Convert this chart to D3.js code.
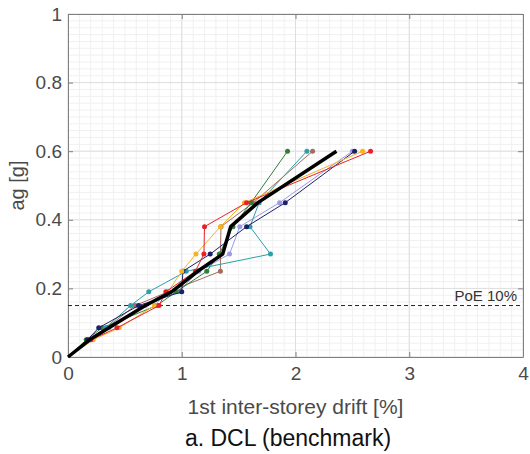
<!DOCTYPE html>
<html>
<head>
<meta charset="utf-8">
<script src="https://cdn.jsdelivr.net/npm/d3@7"></script>
<style>
  body { margin: 0; background: #fff; }
  svg { font-family: Arial, "Liberation Sans", sans-serif; }
</style>
</head>
<body>
<div id="chart"></div>
<script>
// chart size and plot box
const width = 530;
const height = 454;
const margin = {left: 68, right: 7, top: 14, bottom: 97};

// ag levels (y) shared by every record
const agLevels = [0, 0.05, 0.085, 0.15, 0.19, 0.25, 0.30, 0.38, 0.45, 0.60];

// drift [%] of each record at those levels
const driftRed    = [0, 0.20, 0.43, 0.80, 0.86, 1.12, 1.195, 1.20, 1.57, 2.66];
const driftYellow = [0, 0.22, 0.45, 0.76, 0.88, 1.00, 1.125, 1.34, 1.55, 2.59];
const driftNavy   = [0, 0.17, 0.27, 0.62, 1.00, 1.01, 1.25, 1.57, 1.91, 2.52];
const driftTeal   = [0, 0.19, 0.33, 0.55, 0.71, 1.04, 1.78, 1.60, 1.68, 2.10];
const driftGreen  = [0, 0.16, 0.30, 0.78, 0.95, 1.22, 1.33, 1.45, 1.61, 1.93];
const driftBrown  = [0, 0.18, 0.34, 0.59, 0.88, 1.34, 1.34, 1.345, 1.63, 2.15];
const driftPurple = [0, 0.22, 0.36, 0.68, 0.97, 1.15, 1.42, 1.51, 1.86, 2.50];
const driftMean   = [0, 0.19, 0.36, 0.68, 0.91, 1.14, 1.36, 1.43, 1.67, 2.36];

const xTicks = [0, 1, 2, 3, 4];
const yTicks = [0, 0.2, 0.4, 0.6, 0.8, 1];
const poeLevel = 0.15;

const records = [
  {name: "purple", drift: driftPurple, color: "#9b9be6"},
  {name: "brown",  drift: driftBrown,  color: "#a46b60"},
  {name: "green",  drift: driftGreen,  color: "#2f7f3b"},
  {name: "teal",   drift: driftTeal,   color: "#2ba0a8"},
  {name: "navy",   drift: driftNavy,   color: "#1d2066"},
  {name: "yellow", drift: driftYellow, color: "#f4b424"},
  {name: "red",    drift: driftRed,    color: "#e5222b"}
];

const svg = d3.select("#chart")
  .append("svg")
  .attr("width", width)
  .attr("height", height);

const x = d3.scaleLinear().domain([0, 4]).range([margin.left, width - margin.right]);
const y = d3.scaleLinear().domain([0, 1]).range([height - margin.bottom, margin.top]);

// minor grid
svg.append("g")
  .selectAll("line")
  .data(d3.range(0, 4.001, 0.1))
  .join("line")
    .attr("x1", d => x(d)).attr("x2", d => x(d))
    .attr("y1", y(0)).attr("y2", y(1))
    .attr("stroke", "#f0f0f0");
svg.append("g")
  .selectAll("line")
  .data(d3.range(0, 1.001, 0.02))
  .join("line")
    .attr("y1", d => y(d)).attr("y2", d => y(d))
    .attr("x1", x(0)).attr("x2", x(4))
    .attr("stroke", "#f0f0f0");

// major grid
svg.append("g")
  .selectAll("line")
  .data(xTicks)
  .join("line")
    .attr("x1", d => x(d)).attr("x2", d => x(d))
    .attr("y1", y(0)).attr("y2", y(1))
    .attr("stroke", "#dedede");
svg.append("g")
  .selectAll("line")
  .data(yTicks)
  .join("line")
    .attr("y1", d => y(d)).attr("y2", d => y(d))
    .attr("x1", x(0)).attr("x2", x(4))
    .attr("stroke", "#dedede");

// axes box with inward ticks on all sides
const axisColor = "#808080";
const styleAxis = g => {
  g.select(".domain").attr("stroke", axisColor);
  g.selectAll(".tick line").attr("stroke", axisColor);
  g.selectAll(".tick text").attr("fill", "#4a4a4a").attr("font-size", "19px");
};

svg.append("g")
  .attr("transform", `translate(0,${y(0)})`)
  .call(d3.axisBottom(x).tickValues(xTicks).tickSize(-5).tickSizeOuter(0).tickPadding(10).tickFormat(d3.format("d")))
  .call(styleAxis);
svg.append("g")
  .attr("transform", `translate(0,${y(1)})`)
  .call(d3.axisTop(x).tickValues(xTicks).tickSize(-5).tickSizeOuter(0).tickFormat(""))
  .call(styleAxis);
svg.append("g")
  .attr("transform", `translate(${x(0)},0)`)
  .call(d3.axisLeft(y).tickValues(yTicks).tickSize(-5).tickSizeOuter(0).tickPadding(6).tickFormat(d => d === 0 || d === 1 ? d3.format("d")(d) : d3.format(".1f")(d)))
  .call(styleAxis);
svg.append("g")
  .attr("transform", `translate(${x(4)},0)`)
  .call(d3.axisRight(y).tickValues(yTicks).tickSize(-5).tickSizeOuter(0).tickFormat(""))
  .call(styleAxis);

// PoE 10% line
svg.append("line")
  .attr("x1", x(0)).attr("x2", x(4))
  .attr("y1", y(poeLevel)).attr("y2", y(poeLevel))
  .attr("stroke", "#222")
  .attr("stroke-width", 1)
  .attr("stroke-dasharray", "4,3");
svg.append("text")
  .attr("x", x(4) - 6)
  .attr("y", y(poeLevel) - 5)
  .attr("text-anchor", "end")
  .attr("font-size", "15px")
  .attr("fill", "#333")
  .text("PoE 10%");

// records
const line = d3.line()
  .x(d => x(d[0]))
  .y(d => y(d[1]));

records.forEach(r => {
  const pts = r.drift.map((d, i) => [d, agLevels[i]]);
  svg.append("path")
    .datum(pts)
    .attr("fill", "none")
    .attr("stroke", r.color)
    .attr("stroke-width", 1)
    .attr("d", line);
  svg.append("g")
    .selectAll("circle")
    .data(pts.slice(1))
    .join("circle")
      .attr("cx", d => x(d[0]))
      .attr("cy", d => y(d[1]))
      .attr("r", 2.5)
      .attr("fill", r.color);
});

// mean curve
svg.append("path")
  .datum(driftMean.map((d, i) => [d, agLevels[i]]))
  .attr("fill", "none")
  .attr("stroke", "#000")
  .attr("stroke-width", 3.5)
  .attr("stroke-linejoin", "round")
  .attr("d", line);

// axis titles
svg.append("text")
  .attr("x", (x(0) + x(4)) / 2)
  .attr("y", 414)
  .attr("text-anchor", "middle")
  .attr("font-size", "21px")
  .attr("fill", "#4a4a4a")
  .text("1st inter-storey drift [%]");

svg.append("text")
  .attr("transform", `translate(24,${y(0.5)}) rotate(-90)`)
  .attr("text-anchor", "middle")
  .attr("font-size", "20px")
  .attr("fill", "#4a4a4a")
  .text("ag [g]");

svg.append("text")
  .attr("x", 288)
  .attr("y", 446)
  .attr("text-anchor", "middle")
  .attr("font-size", "23px")
  .attr("fill", "#111")
  .text("a. DCL (benchmark)");
</script>
</body>
</html>
